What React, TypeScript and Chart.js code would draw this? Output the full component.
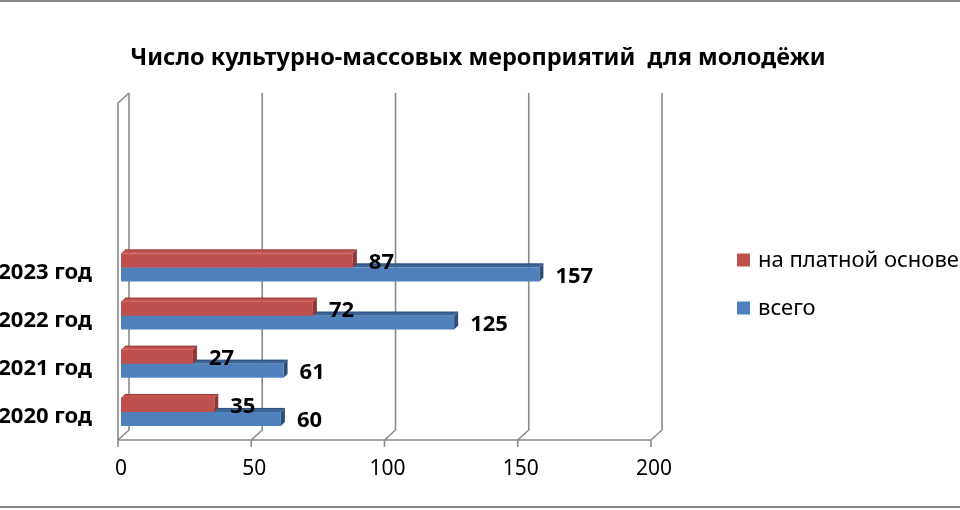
import { useEffect, useRef } from 'react';
import { Chart, registerables } from 'chart.js';

Chart.register(...registerables);

const titleText = 'Число культурно-массовых мероприятий  для молодёжи';
const categories = ['2020 год', '2021 год', '2022 год', '2023 год'];
const paidValues = [35, 27, 72, 87];
const totalValues = [60, 61, 125, 157];
const seriesNames = ['на платной основе', 'всего'];
const xTickValues = [0, 50, 100, 150, 200];
const emptyRows = 3; // the sheet range had blank rows above 2023

const FONT = '"Noto Sans", "DejaVu Sans", sans-serif';
const GRID = '#8a8a8a';
const RED = '#C0504D';
const BLUE = '#4F81BD';
const faces = [
  { top: '#c4534f', edge: '#93403d', side: '#8c3836' },
  { top: '#3b6497', edge: '#2f5280', side: '#2c4d76' },
];
const DEPTH = 4;

const App = () => {
  const canvasRef = useRef<HTMLCanvasElement | null>(null);
  const chartRef = useRef<Chart | null>(null);

  useEffect(() => {
    document.body.style.margin = '0';
    if (!canvasRef.current) return;
    const ctx = canvasRef.current.getContext('2d');
    if (!ctx) return;

    // top-to-bottom order, blanks first, like the Excel chart
    const blanks = Array(emptyRows).fill(null);
    const labels = [...Array(emptyRows).fill(''), ...categories.slice().reverse()];
    const paid = [...blanks, ...paidValues.slice().reverse()];
    const total = [...blanks, ...totalValues.slice().reverse()];

    const frame3d = {
      id: 'frame3d',
      beforeDatasetsDraw(chart: any) {
        const c = chart.ctx;
        const area = chart.chartArea;
        const xs = chart.scales.x;
        const fy = area.bottom + 4;
        const ft = area.top + 4;
        const by = area.bottom - 6;
        const bt = area.top - 6;
        c.save();
        c.strokeStyle = GRID;
        c.lineWidth = 1.6;
        c.beginPath();
        // left wall
        const x0 = xs.getPixelForValue(0) - 3;
        c.moveTo(x0, fy);
        c.lineTo(x0, ft);
        c.lineTo(x0 + 11, bt);
        // floor front edge
        c.moveTo(x0, fy);
        c.lineTo(xs.getPixelForValue(200) - 3, fy);
        xTickValues.forEach((v) => {
          const fx = xs.getPixelForValue(v) - 3;
          c.moveTo(fx, fy + 7);
          c.lineTo(fx, fy);
          c.lineTo(fx + 11, by);
          c.lineTo(fx + 11, bt);
        });
        c.stroke();

        // top and side faces of the bars; blue first so red covers it
        [1, 0].forEach((di) => {
          const meta = chart.getDatasetMeta(di);
          meta.data.forEach((el: any, i: number) => {
            if (chart.data.datasets[di].data[i] == null) return;
            const top = el.y - el.height / 2;
            const bottom = el.y + el.height / 2;
            c.fillStyle = faces[di].top;
            c.beginPath();
            c.moveTo(el.base, top);
            c.lineTo(el.x, top);
            c.lineTo(el.x + DEPTH, top - DEPTH);
            c.lineTo(el.base + DEPTH, top - DEPTH);
            c.closePath();
            c.fill();
            c.strokeStyle = faces[di].edge;
            c.lineWidth = 1;
            c.beginPath();
            c.moveTo(el.base + DEPTH, top - DEPTH + 0.5);
            c.lineTo(el.x + DEPTH, top - DEPTH + 0.5);
            c.stroke();
            c.fillStyle = faces[di].side;
            c.beginPath();
            c.moveTo(el.x, top);
            c.lineTo(el.x + DEPTH, top - DEPTH);
            c.lineTo(el.x + DEPTH, bottom - DEPTH);
            c.lineTo(el.x, bottom);
            c.closePath();
            c.fill();
          });
        });
        c.restore();
      },
      afterDatasetsDraw(chart: any) {
        const c = chart.ctx;
        c.save();
        c.font = `bold 22px ${FONT}`;
        c.fillStyle = '#000';
        c.textAlign = 'left';
        c.textBaseline = 'middle';
        chart.data.datasets.forEach((ds: any, di: number) => {
          chart.getDatasetMeta(di).data.forEach((el: any, i: number) => {
            const v = ds.data[i];
            if (v == null) return;
            c.fillText(String(v), el.x + 16, el.y + 2);
          });
        });
        c.restore();
      },
      afterDraw(chart: any) {
        const c = chart.ctx;
        c.save();
        // outer border lines
        c.fillStyle = '#888';
        c.fillRect(0, 0, chart.width, 2);
        c.fillRect(0, chart.height - 4, chart.width, 2);
        // title
        c.fillStyle = '#000';
        c.font = `bold 23.5px ${FONT}`;
        c.textAlign = 'center';
        c.textBaseline = 'middle';
        c.fillText(titleText, 478, 58);
        // legend
        c.font = `22px ${FONT}`;
        c.textAlign = 'left';
        [RED, BLUE].forEach((col, i) => {
          const cy = 260 + i * 48;
          c.fillStyle = col;
          c.fillRect(737, cy - 6.5, 13, 13);
          c.fillStyle = '#000';
          c.fillText(seriesNames[i], 758, cy + 1);
        });
        c.restore();
      },
    };

    if (chartRef.current) chartRef.current.destroy();

    chartRef.current = new Chart(ctx, {
      type: 'bar',
      data: {
        labels,
        datasets: [
          { label: seriesNames[0], data: paid, backgroundColor: RED },
          { label: seriesNames[1], data: total, backgroundColor: BLUE },
        ],
      },
      options: {
        indexAxis: 'y',
        responsive: false,
        animation: false,
        devicePixelRatio: 1,
        datasets: {
          bar: { categoryPercentage: 0.58, barPercentage: 1 },
        },
        layout: { padding: { top: 99, right: 306, bottom: 0, left: 0 } },
        plugins: {
          legend: { display: false },
          title: { display: false },
          tooltip: { enabled: false },
        },
        scales: {
          x: {
            min: 0,
            max: 200,
            grid: { display: false, drawTicks: false },
            border: { display: false },
            ticks: {
              stepSize: 50,
              padding: 20,
              color: '#000',
              font: { family: FONT, size: 21 },
            },
            afterFit: (s: any) => {
              s.height = 74;
            },
          },
          y: {
            grid: { display: false, drawTicks: false },
            border: { display: false },
            ticks: {
              padding: 29,
              labelOffset: 5,
              color: '#000',
              font: { family: FONT, size: 22, weight: 'bold' },
            },
            afterFit: (s: any) => {
              s.width = 121;
            },
          },
        },
      },
      plugins: [frame3d],
    });

    return () => {
      if (chartRef.current) {
        chartRef.current.destroy();
        chartRef.current = null;
      }
    };
  }, []);

  return (
    <div style={{ width: '960px', height: '510px', background: '#fff' }}>
      <canvas ref={canvasRef} width={960} height={510} />
    </div>
  );
};

export default App;
